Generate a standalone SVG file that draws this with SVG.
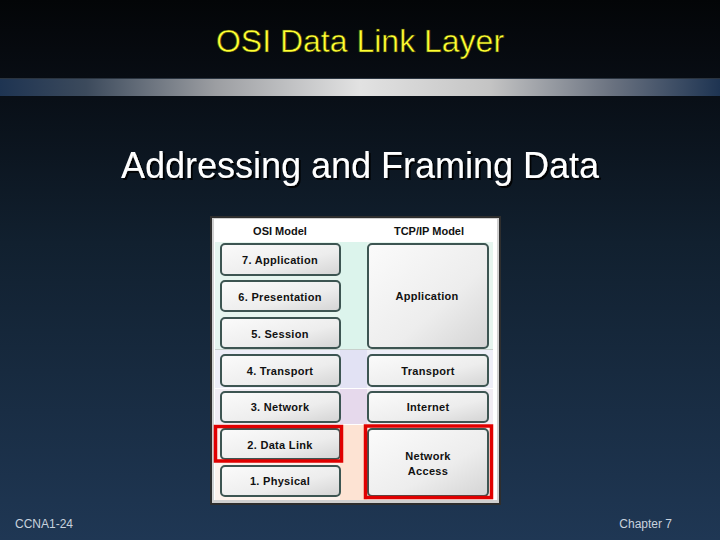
<svg xmlns="http://www.w3.org/2000/svg" width="720" height="540" viewBox="0 0 720 540">
  <defs>
    <linearGradient id="bg" x1="0" y1="0" x2="0" y2="1">
      <stop offset="0" stop-color="#030507"/>
      <stop offset="0.15" stop-color="#080d14"/>
      <stop offset="0.45" stop-color="#11202f"/>
      <stop offset="1" stop-color="#1f3754"/>
    </linearGradient>
    <linearGradient id="bar" x1="0" y1="0" x2="1" y2="0">
      <stop offset="0" stop-color="#1e3452"/>
      <stop offset="0.12" stop-color="#3c4a5c"/>
      <stop offset="0.3" stop-color="#9c9ea2"/>
      <stop offset="0.5" stop-color="#e2e2e2"/>
      <stop offset="0.68" stop-color="#c4c4c4"/>
      <stop offset="0.85" stop-color="#6a7280"/>
      <stop offset="1" stop-color="#1e3452"/>
    </linearGradient>
    <linearGradient id="box" x1="0" y1="0" x2="1" y2="1">
      <stop offset="0" stop-color="#fbfbfb"/>
      <stop offset="0.6" stop-color="#ededed"/>
      <stop offset="1" stop-color="#d4d4d4"/>
    </linearGradient>
    <filter id="shadow" x="-5%" y="-20%" width="110%" height="140%">
      <feDropShadow dx="2" dy="2" stdDeviation="0.6" flood-color="#000" flood-opacity="0.9"/>
    </filter>
  </defs>
  <style>
    .title{font-family:"Liberation Sans",Arial,sans-serif;font-size:32px;fill:#ffff33;text-anchor:middle}
    .sub{font-family:"Liberation Sans",Arial,sans-serif;font-size:36px;fill:#ffffff;text-anchor:middle}
    .foot{font-family:"Liberation Sans",Arial,sans-serif;font-size:12px;fill:#c9d2de}
    .hdr{font-family:"Liberation Sans",Arial,sans-serif;font-size:11px;font-weight:bold;fill:#111;text-anchor:middle}
    .lbl{font-family:"Liberation Sans",Arial,sans-serif;font-size:11px;font-weight:bold;fill:#111;text-anchor:middle;letter-spacing:0.3px}
    .b{fill:url(#box);stroke:#3d5552;stroke-width:2}
    .hl{fill:none;stroke:#e00000;stroke-width:3.5}
  </style>
  <rect x="0" y="0" width="720" height="540" fill="url(#bg)"/>
  <rect x="0" y="78" width="720" height="18" fill="url(#bar)"/>
  <line x1="0" y1="78.5" x2="720" y2="78.5" stroke="#2a3440" stroke-width="1"/>

  <text class="title" x="360" y="52" stroke="#333300" stroke-width="0.6">OSI Data Link Layer</text>
  <text class="sub" x="360" y="178" filter="url(#shadow)">Addressing and Framing Data</text>

  <g id="panel">
    <rect x="210" y="216" width="291" height="289" fill="#2e2e2e"/>
    <rect x="212" y="218" width="287" height="285" fill="#d0d0d0"/>
    <rect x="214" y="219" width="283" height="281" fill="#ffffff"/>
    <rect x="215" y="242" width="278" height="107" fill="#e6f5ef"/>
    <rect x="340" y="242" width="27" height="107" fill="#dcf4ec"/>
    <rect x="215" y="350" width="278" height="38" fill="#eeeef8"/>
    <rect x="340" y="350" width="27" height="38" fill="#e2e2f4"/>
    <rect x="215" y="389" width="278" height="35" fill="#f1ecf3"/>
    <rect x="340" y="389" width="27" height="35" fill="#e6d9ec"/>
    <rect x="215" y="425" width="278" height="75" fill="#fdf2ec"/>
    <rect x="340" y="425" width="27" height="75" fill="#fde3d3"/>
    <line x1="215" y1="349.5" x2="493" y2="349.5" stroke="#c8d0cc" stroke-width="1"/>
    <text class="hdr" x="280" y="235">OSI Model</text>
    <text class="hdr" x="429" y="235">TCP/IP Model</text>
  </g>

  <g id="osi7"><rect class="b" x="221" y="244" width="119" height="31" rx="4"/><text class="lbl" x="280" y="264">7. Application</text></g>
  <g id="osi6"><rect class="b" x="221" y="281" width="119" height="30" rx="4"/><text class="lbl" x="280" y="301">6. Presentation</text></g>
  <g id="osi5"><rect class="b" x="221" y="318" width="119" height="30" rx="4"/><text class="lbl" x="280" y="338">5. Session</text></g>
  <g id="osi4"><rect class="b" x="221" y="355" width="119" height="31" rx="4"/><text class="lbl" x="280" y="375">4. Transport</text></g>
  <g id="osi3"><rect class="b" x="221" y="392" width="119" height="30" rx="4"/><text class="lbl" x="280" y="411">3. Network</text></g>
  <g id="osi2"><rect class="b" x="221" y="429" width="119" height="30" rx="4"/><text class="lbl" x="280" y="449">2. Data Link</text></g>
  <g id="osi1"><rect class="b" x="221" y="466" width="119" height="30" rx="4"/><text class="lbl" x="280" y="485">1. Physical</text></g>

  <g id="tcp-app"><rect class="b" x="368" y="244" width="120" height="104" rx="4"/><text class="lbl" x="427" y="300">Application</text></g>
  <g id="tcp-transport"><rect class="b" x="368" y="355" width="120" height="31" rx="4"/><text class="lbl" x="428" y="375">Transport</text></g>
  <g id="tcp-internet"><rect class="b" x="368" y="392" width="120" height="30" rx="4"/><text class="lbl" x="428" y="411">Internet</text></g>
  <g id="tcp-netaccess"><rect class="b" x="368" y="429" width="120" height="67" rx="4"/><text class="lbl" x="428" y="460">Network</text><text class="lbl" x="428" y="475">Access</text></g>

  <g id="connectors">
    <rect class="hl" x="215.5" y="426.5" width="126" height="34.5"/>
    <rect class="hl" x="365.5" y="426" width="126" height="71.5"/>
  </g>

  <text class="foot" x="15" y="528">CCNA1-24</text>
  <text class="foot" x="672" y="528" text-anchor="end">Chapter 7</text>
</svg>
